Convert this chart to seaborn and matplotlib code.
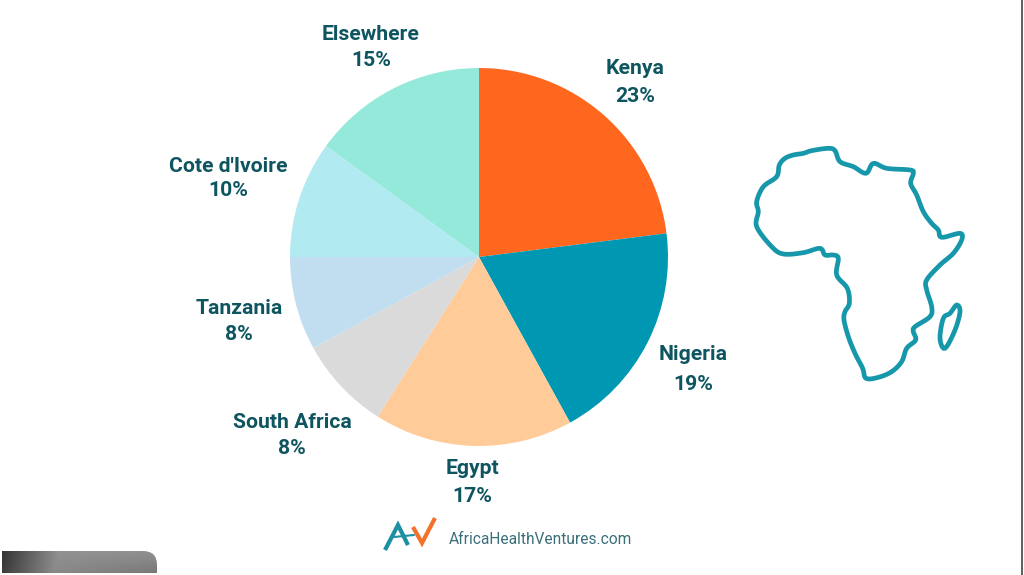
import numpy as np
import matplotlib
matplotlib.use("Agg")
import matplotlib.pyplot as plt
from matplotlib.patches import FancyBboxPatch, Polygon
import seaborn as sns

categories = ["Kenya", "Nigeria", "Egypt", "South Africa", "Tanzania", "Cote d'Ivoire", "Elsewhere"]
shares = [23, 19, 17, 8, 8, 10, 15]
colors = ["#FF671F", "#0097B2", "#FFCB99", "#DADADA", "#C1DDF0", "#B2EAF2", "#95E9DA"]
label_x = [635, 693, 472, 292, 239, 228, 371]
name_y = [68, 355, 468, 423, 309, 166, 35]
pct_y = [96, 384, 496, 449, 334, 191, 61]

africa_zoom = [(160,75),(190,70),(215,62),(265,55),(285,62),(300,95),(340,110),(378,130),(400,100),(440,115),
    (510,120),(520,130),(512,160),(530,195),(550,245),(575,280),(595,300),(605,322),(660,310),(665,330),
    (640,370),(600,405),(560,450),(560,480),(575,530),(570,560),(525,590),(520,605),(527,630),(500,655),
    (485,695),(455,725),(415,742),(378,745),(368,715),(345,670),(325,620),(312,570),(315,545),(328,520),
    (322,475),(290,435),(295,385),(280,375),(255,375),(240,355),(190,368),(130,372),(95,350),(50,290),
    (55,245),(50,215),(70,170),(110,140),(118,105),(135,85)]
madagascar_zoom = [(650,525),(660,545),(645,600),(615,655),(600,625),(610,565),(630,550)]

sns.set_theme(style="white")
plt.rcParams["font.family"] = ["Roboto", "DejaVu Sans"]

W, H = 1024, 575
fig = plt.figure(figsize=(W / 100, H / 100), dpi=100, facecolor="white")

# Pie, centred at (479, 257) with radius 189 px
cx, cy, r = 479, 257, 189
ax = fig.add_axes([(cx - r) / W, 1 - (cy + r) / H, 2 * r / W, 2 * r / H])
ax.pie(shares, colors=sns.color_palette(colors), startangle=90, counterclock=False, radius=1,
       wedgeprops={"linewidth": 0})
ax.set_xlim(-1, 1)
ax.set_ylim(-1, 1)

# Overlay in pixel coordinates
ov = fig.add_axes([0, 0, 1, 1], zorder=5)
ov.set_xlim(0, W)
ov.set_ylim(H, 0)
ov.axis("off")
ov.patch.set_alpha(0)

text_color = "#0E5560"
for name, v, x, y1, y2 in zip(categories, shares, label_x, name_y, pct_y):
    ov.text(x, y1, name, ha="center", va="center", fontsize=15.2, fontweight="bold", color=text_color)
    ov.text(x, y2, f"{v}%", ha="center", va="center", fontsize=15.2, fontweight="bold", color=text_color)


def smooth_outline(pts, steps=6):
    p = np.array([(740 + a / 3, 130 + b / 3) for a, b in pts], dtype=float)
    t = np.linspace(0, 1, steps, endpoint=False)[:, None, None]
    p0, p1, p2, p3 = np.roll(p, 1, axis=0), p, np.roll(p, -1, axis=0), np.roll(p, -2, axis=0)
    c = 0.5 * (2 * p1 + (p2 - p0) * t + (2 * p0 - 5 * p1 + 4 * p2 - p3) * t ** 2
               + (3 * p1 - p0 - 3 * p2 + p3) * t ** 3)
    return c.transpose(1, 0, 2).reshape(-1, 2)


teal = "#1797AA"
for pts in (africa_zoom, madagascar_zoom):
    ov.add_patch(Polygon(smooth_outline(pts), closed=True, fill=False, edgecolor=teal,
                         linewidth=3.4, joinstyle="round"))

# Logo
ov.plot([385, 398, 408], [550, 525, 545], color="#1C8FA3", lw=3.0, solid_capstyle="butt", solid_joinstyle="miter")
ov.plot([394, 414], [537, 535], color="#1C8FA3", lw=1.5)
ov.plot([413, 422, 435], [527, 543, 518], color="#F2722B", lw=3.0, solid_capstyle="butt", solid_joinstyle="miter")
ov.text(449, 539.5, "AfricaHealthVentures.com", ha="left", va="center", fontsize=11.2, color="#3B6F7A")

# Grey gradient tab at bottom-left: square left corner, rounded top-right corner
tab = FancyBboxPatch((-40, 551), 197, 60, boxstyle="round,pad=0,rounding_size=14", facecolor="none",
                     edgecolor="none", transform=ov.transData)
ov.add_patch(tab)
gx, gy = np.meshgrid(np.linspace(0, 1, 160), np.linspace(0, 1, 24))
grad = np.clip(0.24 + 1.0 * gx - 0.04 * (1 - gy), 0, 0.57) - 0.10 * gy * gx
im = ov.imshow(grad, extent=(2, 157, 573, 551), cmap="gray", vmin=0, vmax=1, aspect="auto", zorder=3,
               interpolation="bilinear")
im.set_clip_path(tab)
ov.set_xlim(0, W)
ov.set_ylim(H, 0)

# Right-hand edge line
ov.plot([1021.5, 1021.5], [0, 575], color="#444444", lw=1.2)

fig.savefig("out.png", dpi=100, facecolor="white")
